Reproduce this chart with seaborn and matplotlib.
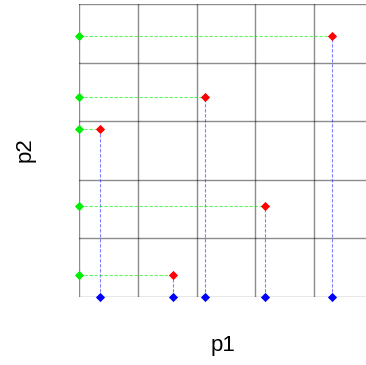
import matplotlib
matplotlib.use("Agg")
import matplotlib.pyplot as plt
import seaborn as sns
import pandas as pd
import numpy as np

# data
p1 = [0.071, 0.320, 0.430, 0.632, 0.862]
p2 = [0.572, 0.074, 0.684, 0.311, 0.890]
grid_ticks = [0.0, 0.2, 0.4, 0.6, 0.8, 1.0]

sns.set_theme(style="white")
plt.rcParams['font.family'] = ['Liberation Sans', 'DejaVu Sans']

df = pd.DataFrame({"p1": p1, "p2": p2})
n = len(p1)

fig = plt.figure(figsize=(3.66, 3.65), dpi=100)
ax = fig.add_axes([0.2167, 0.1863, 0.8014, 0.8027])

ax.set_xlim(0, 1)
ax.set_ylim(0, 1)
ax.set_xticks(grid_ticks)
ax.set_yticks(grid_ticks)
ax.grid(True, color="black", alpha=0.45, lw=1.0)
ax.tick_params(length=0, labelbottom=False, labelleft=False)
for s in ax.spines.values():
    s.set_visible(False)

# guide lines
for x, y in zip(p1, p2):
    ax.plot([0, x], [y, y], ls="--", color="#00ee00", lw=0.8, alpha=0.6, dashes=(3, 1.5), zorder=3)
    ax.plot([x, x], [0, y], ls="--", color="#0000ff", lw=0.8, alpha=0.5, dashes=(3, 1.5), zorder=3)

kw = dict(marker="D", s=22, linewidth=0, legend=False, zorder=5, clip_on=False)
sns.scatterplot(x=df["p1"], y=[0] * n, color="#0000ff", ax=ax, **kw)
sns.scatterplot(x=[0] * n, y=df["p2"], color="#00ee00", ax=ax, **kw)
sns.scatterplot(data=df, x="p1", y="p2", color="#ff0000", ax=ax, **kw)

ax.set_xlabel("")
ax.set_ylabel("")
fig.text(223 / 366, 1 - 345 / 365, "p1", fontsize=16, ha="center", va="center", color="black")
fig.text(25 / 366, 1 - 150 / 365, "p2", fontsize=16, ha="center", va="center",
         rotation=90, color="black")

fig.savefig("out.png", dpi=100)
